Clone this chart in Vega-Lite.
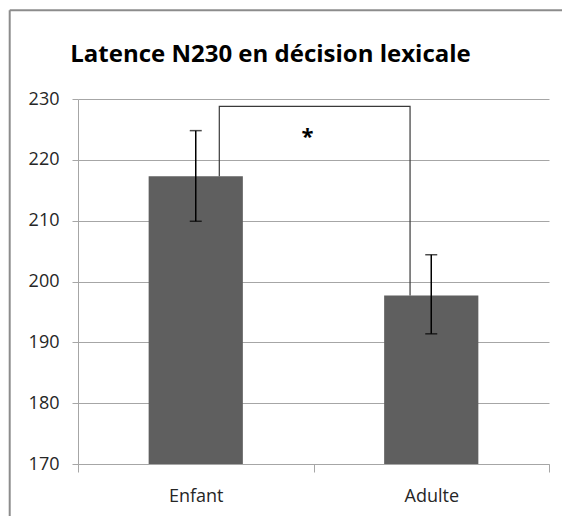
{
  "$schema": "https://vega.github.io/schema/vega-lite/v6.json",
  "autosize": {"type": "none"},
  "width": 471,
  "height": 365,
  "padding": {"left": 78, "top": 99, "right": 13, "bottom": 52},
  "background": "white",
  "config": {
    "view": {"stroke": null},
    "font": "Open Sans"
  },
  "title": {
    "text": "Latence N230 en décision lexicale",
    "font": "Open Sans",
    "fontSize": 24,
    "fontWeight": "bold",
    "color": "#000000",
    "anchor": "middle",
    "frame": "group",
    "baseline": "alphabetic",
    "dx": -43,
    "offset": -77
  },
  "datasets": {
    "barres": [
      {"groupe": "Enfant", "latence": 217.3, "bas": 209.9, "haut": 224.8},
      {"groupe": "Adulte", "latence": 197.7, "bas": 191.4, "haut": 204.4}
    ],
    "crochet": [
      {"pos": 0.6, "val": 217.3, "ordre": 1},
      {"pos": 0.6, "val": 228.8, "ordre": 2},
      {"pos": 1.41, "val": 228.8, "ordre": 3},
      {"pos": 1.41, "val": 197.7, "ordre": 4}
    ],
    "etoile": [{"pos": 0.975, "val": 223.7, "texte": "*"}],
    "cadre": [
      {"x1": -0.29, "x2": -0.29, "y1": 244.6, "y2": 150},
      {"x1": -0.29, "x2": 2.3, "y1": 244.6, "y2": 244.6}
    ]
  },
  "layer": [
    {
      "data": {"name": "barres"},
      "encoding": {
        "x": {
          "field": "groupe",
          "type": "nominal",
          "sort": ["Enfant", "Adulte"],
          "scale": {"paddingInner": 0, "paddingOuter": 0},
          "axis": {
            "title": null,
            "domain": true,
            "domainColor": "#a6a6a6",
            "ticks": true,
            "tickBand": "extent",
            "tickSize": 8,
            "tickColor": "#a6a6a6",
            "labelAngle": 0,
            "labelFontSize": 18,
            "labelColor": "#262626",
            "labelPadding": 15,
            "grid": false
          }
        }
      },
      "layer": [
        {
          "mark": {"type": "bar", "color": "#5f5f5f", "width": {"band": 0.4}},
          "encoding": {
            "y": {
              "field": "latence",
              "type": "quantitative",
              "scale": {"domain": [170, 230], "nice": false, "zero": false},
              "axis": {
                "title": null,
                "values": [170, 180, 190, 200, 210, 220, 230],
                "labelFontSize": 18,
                "labelColor": "#262626",
                "labelPadding": 13,
                "tickSize": 6,
                "tickColor": "#a6a6a6",
                "domainColor": "#a6a6a6",
                "gridColor": "#a6a6a6",
                "grid": true
              }
            },
            "y2": {"datum": 170}
          }
        },
        {
          "mark": {"type": "rule", "color": "#000000", "strokeWidth": 1.5},
          "encoding": {
            "y": {"field": "bas", "type": "quantitative"},
            "y2": {"field": "haut"}
          }
        },
        {
          "mark": {"type": "tick", "color": "#000000", "size": 12, "thickness": 1.5},
          "encoding": {"y": {"field": "bas", "type": "quantitative"}}
        },
        {
          "mark": {"type": "tick", "color": "#000000", "size": 12, "thickness": 1.5},
          "encoding": {"y": {"field": "haut", "type": "quantitative"}}
        }
      ]
    },
    {
      "layer": [
        {
          "data": {"name": "crochet"},
          "mark": {"type": "line", "color": "#3a3a3a", "strokeWidth": 1.2},
          "encoding": {
            "x": {
              "field": "pos",
              "type": "quantitative",
              "scale": {"domain": [0, 2], "nice": false, "zero": false},
              "axis": null
            },
            "y": {"field": "val", "type": "quantitative"},
            "order": {"field": "ordre"}
          }
        },
        {
          "data": {"name": "etoile"},
          "mark": {"type": "text", "fontSize": 22, "fontWeight": "bold", "color": "#000000", "baseline": "middle"},
          "encoding": {
            "x": {"field": "pos", "type": "quantitative"},
            "y": {"field": "val", "type": "quantitative"},
            "text": {"field": "texte"}
          }
        },
        {
          "data": {"name": "cadre"},
          "mark": {"type": "rule", "color": "#8c8c8c", "strokeWidth": 2},
          "encoding": {
            "x": {"field": "x1", "type": "quantitative"},
            "x2": {"field": "x2"},
            "y": {"field": "y1", "type": "quantitative"},
            "y2": {"field": "y2"}
          }
        }
      ]
    }
  ],
  "resolve": {"scale": {"x": "independent"}}
}
